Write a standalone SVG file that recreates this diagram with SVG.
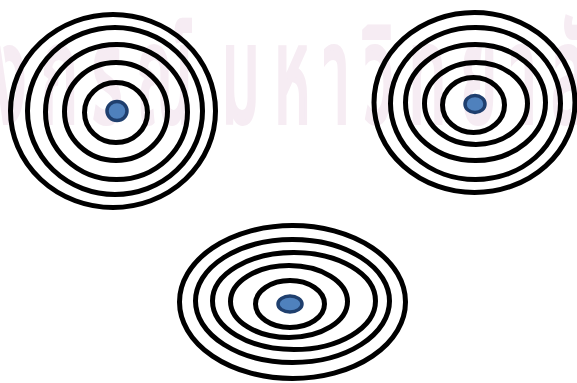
<svg xmlns="http://www.w3.org/2000/svg" width="577" height="383" viewBox="0 0 577 383">
<style>
.ring{fill:none;stroke:#000;stroke-width:5}
.dot{fill:#4f81bd;stroke:#1f3f6e;stroke-width:3.5}
.wm{font-family:"Noto Sans Thai","DejaVu Sans","Noto Sans",sans-serif;font-size:135px;fill:#f6ecf3;stroke:#f6ecf3;stroke-width:6;letter-spacing:33px}
</style>
<rect width="577" height="383" fill="#fff"/>
<g id="watermark" transform="translate(222,122) scale(0.45,1)">
<text class="wm" x="-33" y="0" text-anchor="end">จุฬาลงกรณ์</text>
<text class="wm" x="0" y="0">มหาวิทยาลัย</text>
</g>
<g id="target-top-left">
<ellipse class="ring" cx="113" cy="111" rx="102.5" ry="96.5"/>
<ellipse class="ring" cx="115" cy="111" rx="87.5" ry="83.5"/>
<ellipse class="ring" cx="116.5" cy="112" rx="71" ry="67.5"/>
<ellipse class="ring" cx="116" cy="111.5" rx="51.5" ry="49"/>
<ellipse class="ring" cx="116" cy="112.5" rx="31.5" ry="30"/>
<ellipse class="dot" cx="117" cy="111" rx="10" ry="9.5"/>
</g>
<g id="target-top-right">
<ellipse class="ring" cx="474.5" cy="102.5" rx="100.5" ry="90"/>
<ellipse class="ring" cx="475.5" cy="103.5" rx="85" ry="76"/>
<ellipse class="ring" cx="475.5" cy="102.5" rx="70" ry="58"/>
<ellipse class="ring" cx="476" cy="103.5" rx="51.5" ry="41"/>
<ellipse class="ring" cx="473.5" cy="105" rx="31" ry="27.5"/>
<ellipse class="dot" cx="475" cy="104" rx="10" ry="8.5"/>
</g>
<g id="target-bottom">
<ellipse class="ring" cx="292.5" cy="302" rx="113" ry="76.5"/>
<ellipse class="ring" cx="292.5" cy="301" rx="97" ry="61.5"/>
<ellipse class="ring" cx="294" cy="301" rx="81.5" ry="48.5"/>
<ellipse class="ring" cx="289" cy="301.5" rx="58.5" ry="36"/>
<ellipse class="ring" cx="290" cy="304" rx="34.5" ry="23.5"/>
<ellipse class="dot" cx="290" cy="304" rx="12" ry="8"/>
</g>
</svg>
